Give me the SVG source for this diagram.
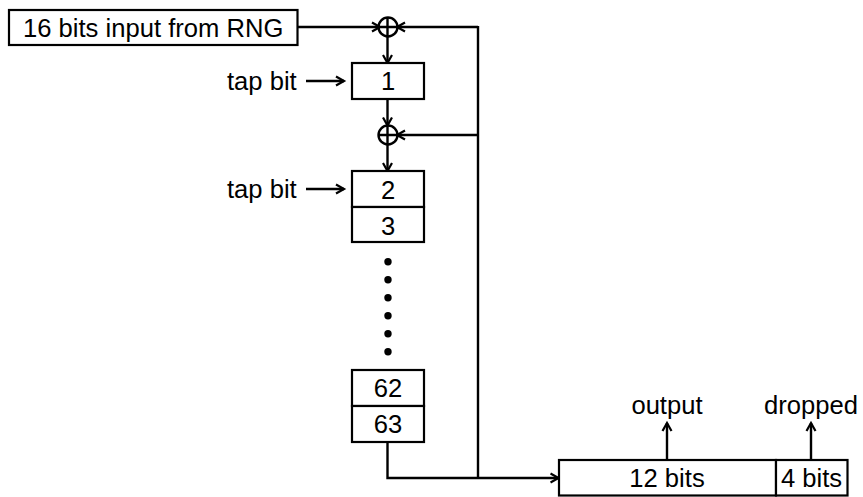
<svg xmlns="http://www.w3.org/2000/svg" width="863" height="497" viewBox="0 0 863 497">
<style>
rect{fill:#fff;stroke:#000;stroke-width:2.200}
.c{fill:none;stroke:#000;stroke-width:2.400}
.a{fill:none;stroke:#000;stroke-width:2.400;marker-end:url(#h)}
text{font-family:"Liberation Sans",Arial,sans-serif;font-size:25.600px;fill:#000}
.m{text-anchor:middle}
</style>
<defs>
<marker id="h" markerUnits="userSpaceOnUse" markerWidth="12" markerHeight="14" refX="9" refY="7" orient="auto"><path d="M1 2.500L9 7L1 11.500" fill="none" stroke="#000" stroke-width="2.200"/></marker>
</defs>
<rect width="863" height="497" style="fill:#fff;stroke:none"/>
<g id="connectors">
<path class="a" d="M298 27H380"/>
<path class="a" d="M478 27H397"/>
<path class="a" d="M387.500 37V63"/>
<path class="a" d="M387.500 99V125.500"/>
<path class="a" d="M478 135H397"/>
<path class="a" d="M387.500 145V171"/>
<path class="c" d="M478 26V478"/>
<path class="a" d="M387.500 442V478H558.500"/>
<path class="a" d="M306 81H344"/>
<path class="a" d="M306 189H344"/>
<path class="a" d="M667 460V423"/>
<path class="a" d="M811 460V423"/>
</g>
<g id="input"><rect x="9" y="10" width="288.500" height="35"/><text x="23" y="36.500">16 bits input from RNG</text></g>
<g id="xor1"><circle class="c" cx="388" cy="27" r="9.500"/><path class="c" d="M378.500 27H397.500M387.500 17.500V36.500"/></g>
<g id="xor2"><circle class="c" cx="388" cy="135" r="9.500"/><path class="c" d="M378.500 135H397.500M387.500 125.500V144.500"/></g>
<g id="tap1"><text x="227" y="89.500">tap bit</text></g>
<g id="tap2"><text x="227" y="197.500">tap bit</text></g>
<g id="reg1"><rect x="352" y="63" width="72" height="36"/><text class="m" x="388" y="90">1</text></g>
<g id="reg2"><rect x="352" y="171" width="72" height="36"/><text class="m" x="388" y="199">2</text></g>
<g id="reg3"><rect x="352" y="207" width="72" height="35"/><text class="m" x="388" y="235">3</text></g>
<g id="dots"><circle cx="388" cy="261.700" r="3.700"/><circle cx="388" cy="279.700" r="3.700"/><circle cx="388" cy="297.700" r="3.700"/><circle cx="388" cy="315.700" r="3.700"/><circle cx="388" cy="333.700" r="3.700"/><circle cx="388" cy="351.700" r="3.700"/></g>
<g id="reg62"><rect x="352" y="370" width="72" height="36"/><text class="m" x="388" y="397">62</text></g>
<g id="reg63"><rect x="352" y="406" width="72" height="36"/><text class="m" x="388" y="433">63</text></g>
<g id="bits12"><rect x="559" y="460" width="217" height="35.500"/><text class="m" x="667" y="487">12 bits</text></g>
<g id="bits4"><rect x="776" y="460" width="71.500" height="35.500"/><text class="m" x="811.500" y="487">4 bits</text></g>
<g id="outputLabel"><text class="m" x="667" y="414">output</text></g>
<g id="droppedLabel"><text class="m" x="811" y="414">dropped</text></g>
</svg>
